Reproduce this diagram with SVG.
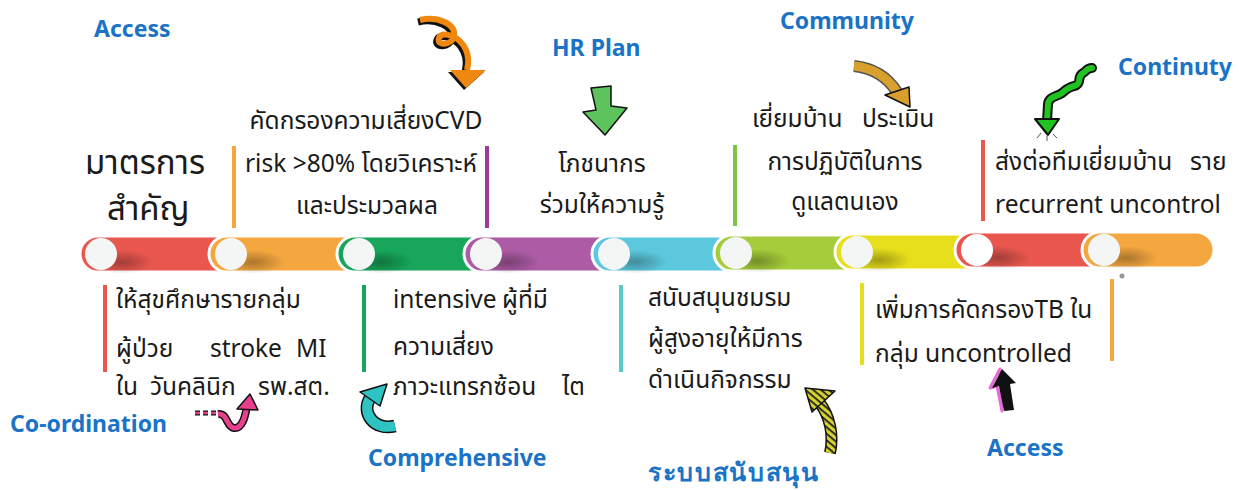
<svg xmlns="http://www.w3.org/2000/svg" width="1239" height="490" viewBox="0 0 1239 490">
  <style>
    .lbl { font-family: "Noto Sans", "Open Sans", "DejaVu Sans", sans-serif; font-weight: bold; font-size: 23px; fill: #1A73C6; }
    .txt { font-family: "Noto Sans Thai", "Noto Sans", "DejaVu Sans", sans-serif; font-size: 24.5px; fill: #1a1a1a; white-space: pre; }
    .big { font-family: "Noto Sans Thai", "Noto Sans", "DejaVu Sans", sans-serif; font-size: 33px; fill: #1a1a1a; }
    .seg { stroke: #ffffff; stroke-width: 3; }
    .dot { fill: #F4F5F5; }
    .tick { stroke-width: 4; stroke-linecap: butt; }
    .ink { stroke: #111; stroke-width: 1.5; stroke-linejoin: round; }
  </style>
  <defs>
    <radialGradient id="shade" cx="0.5" cy="0.5" r="0.5">
      <stop offset="0" stop-color="#000" stop-opacity="0.3"/>
      <stop offset="1" stop-color="#000" stop-opacity="0"/>
    </radialGradient>
    <pattern id="stripes" width="5" height="5" patternUnits="userSpaceOnUse" patternTransform="rotate(40)">
      <rect width="5" height="5" fill="#D6D232"/>
      <rect width="5" height="1.8" fill="#222"/>
    </pattern>
  </defs>

  <!-- timeline bar -->
  <g id="timeline">
    <g id="seg1">
      <path class="seg" fill="#E9574F" d="M98 236 H232 V272 H98 A18 18 0 0 1 98 236 Z"/>
      <ellipse cx="122" cy="262" rx="32" ry="12" fill="url(#shade)"/>
      <circle class="dot" cx="101" cy="254" r="16"/>
    </g>
    <g id="seg2">
      <path class="seg" fill="#F4A73F" d="M227 236 H360 V272 H227 A18 18 0 0 1 227 236 Z"/>
      <ellipse cx="253" cy="262" rx="32" ry="12" fill="url(#shade)"/>
      <circle class="dot" cx="231" cy="254" r="16"/>
    </g>
    <g id="seg3">
      <path class="seg" fill="#17A65A" d="M355 236 H486 V272 H355 A18 18 0 0 1 355 236 Z"/>
      <ellipse cx="381" cy="262" rx="32" ry="12" fill="url(#shade)"/>
      <circle class="dot" cx="359" cy="254" r="16"/>
    </g>
    <g id="seg4">
      <path class="seg" fill="#AD5BA4" d="M482 236 H614 V272 H482 A18 18 0 0 1 482 236 Z"/>
      <ellipse cx="508" cy="262" rx="32" ry="12" fill="url(#shade)"/>
      <circle class="dot" cx="486" cy="254" r="16"/>
    </g>
    <g id="seg5">
      <path class="seg" fill="#5CC8DE" d="M610 236 H736 V272 H610 A18 18 0 0 1 610 236 Z"/>
      <ellipse cx="636" cy="262" rx="32" ry="12" fill="url(#shade)"/>
      <circle class="dot" cx="614" cy="254" r="16"/>
    </g>
    <g id="seg6">
      <path class="seg" fill="#A5CC3A" d="M732 235 H857 V271 H732 A18 18 0 0 1 732 235 Z"/>
      <ellipse cx="758" cy="261" rx="32" ry="12" fill="url(#shade)"/>
      <circle class="dot" cx="736" cy="253" r="16"/>
    </g>
    <g id="seg7">
      <path class="seg" fill="#E7DF1B" d="M853 234 H977 V270 H853 A18 18 0 0 1 853 234 Z"/>
      <ellipse cx="879" cy="260" rx="32" ry="12" fill="url(#shade)"/>
      <circle class="dot" cx="857" cy="252" r="16"/>
    </g>
    <g id="seg8">
      <path class="seg" fill="#E9574F" d="M973 232 H1104 V268 H973 A18 18 0 0 1 973 232 Z"/>
      <ellipse cx="999" cy="258" rx="32" ry="12" fill="url(#shade)"/>
      <circle fill="#ffffff" cx="977" cy="250" r="16"/>
    </g>
    <g id="seg9">
      <path class="seg" fill="#F4A73F" d="M1100 232 H1196 A18 18 0 0 1 1196 268 H1100 A18 18 0 0 1 1100 232 Z"/>
      <ellipse cx="1126" cy="258" rx="32" ry="12" fill="url(#shade)"/>
      <circle class="dot" cx="1104" cy="250" r="16"/>
      <circle cx="1122" cy="276" r="2.5" fill="#999"/>
    </g>
  </g>

  <!-- colour ticks above and below the bar -->
  <g id="ticks">
    <line class="tick" x1="234" y1="146" x2="234" y2="228" stroke="#F4A73F"/>
    <line class="tick" x1="487" y1="146" x2="487" y2="228" stroke="#9B3C9B"/>
    <line class="tick" x1="735" y1="145" x2="735" y2="226" stroke="#7CC443"/>
    <line class="tick" x1="983" y1="140" x2="983" y2="221" stroke="#E9574F"/>
    <line class="tick" x1="105" y1="285" x2="105" y2="372" stroke="#E9574F"/>
    <line class="tick" x1="364" y1="285" x2="364" y2="372" stroke="#17A65A"/>
    <line class="tick" x1="621" y1="285" x2="621" y2="372" stroke="#5CC8C8"/>
    <line class="tick" x1="862" y1="283" x2="862" y2="365" stroke="#E7DF1B"/>
    <line class="tick" x1="1112" y1="279" x2="1112" y2="361" stroke="#F4A73F"/>
  </g>

  <!-- heading -->
  <g id="title">
    <text class="big" x="85" y="174">มาตรการ</text>
    <text class="big" x="107" y="220">สำคัญ</text>
  </g>

  <!-- category labels -->
  <g id="labels">
    <text class="lbl" x="94" y="37">Access</text>
    <text class="lbl" x="780" y="29">Community</text>
    <text class="lbl" x="552" y="56">HR Plan</text>
    <text class="lbl" x="1118" y="75">Continuty</text>
    <text class="lbl" x="10" y="432">Co-ordination</text>
    <text class="lbl" x="368" y="466">Comprehensive</text>
    <text class="lbl" x="648" y="481" style="font-size:25px" textLength="170" lengthAdjust="spacing">ระบบสนับสนุน</text>
    <text class="lbl" x="987" y="456">Access</text>
  </g>

  <!-- upper activity texts -->
  <g id="node-cvd">
    <text class="txt" x="366" y="129" text-anchor="middle">คัดกรองความเสี่ยงCVD</text>
    <text class="txt" x="245" y="172">risk &gt;80% โดยวิเคราะห์</text>
    <text class="txt" x="367" y="214" text-anchor="middle">และประมวลผล</text>
  </g>
  <g id="node-nutrition">
    <text class="txt" x="602" y="172" text-anchor="middle">โภชนากร</text>
    <text class="txt" x="602" y="213" text-anchor="middle">ร่วมให้ความรู้</text>
  </g>
  <g id="node-visit">
    <text class="txt" y="127"><tspan x="752">เยี่ยมบ้าน</tspan><tspan x="862">ประเมิน</tspan></text>
    <text class="txt" x="845" y="170" text-anchor="middle">การปฏิบัติในการ</text>
    <text class="txt" x="845" y="210" text-anchor="middle">ดูแลตนเอง</text>
  </g>
  <g id="node-refer">
    <text class="txt" y="170"><tspan x="995">ส่งต่อทีมเยี่ยมบ้าน</tspan><tspan x="1190">ราย</tspan></text>
    <text class="txt" x="995" y="213">recurrent uncontrol</text>
  </g>

  <!-- lower activity texts -->
  <g id="node-education">
    <text class="txt" x="116" y="308">ให้สุขศึกษารายกลุ่ม</text>
    <text class="txt" y="357"><tspan x="116">ผู้ป่วย</tspan><tspan x="210">stroke</tspan><tspan x="296">MI</tspan></text>
    <text class="txt" y="395"><tspan x="116">ใน</tspan><tspan x="150">วันคลินิก</tspan><tspan x="258">รพ.สต.</tspan></text>
  </g>
  <g id="node-intensive">
    <text class="txt" y="308"><tspan x="393">intensive</tspan><tspan x="502">ผู้ที่มี</tspan></text>
    <text class="txt" x="393" y="355">ความเสี่ยง</text>
    <text class="txt" y="395"><tspan x="393">ภาวะแทรกซ้อน</tspan><tspan x="562">ไต</tspan></text>
  </g>
  <g id="node-club">
    <text class="txt" x="648" y="306">สนับสนุนชมรม</text>
    <text class="txt" x="648" y="347">ผู้สูงอายุให้มีการ</text>
    <text class="txt" x="648" y="388">ดำเนินกิจกรรม</text>
  </g>
  <g id="node-tb">
    <text class="txt" x="875" y="318">เพิ่มการคัดกรองTB ใน</text>
    <text class="txt" x="875" y="362">กลุ่ม uncontrolled</text>
  </g>

  <!-- hand-drawn arrows -->
  <g id="connectors">
    <!-- orange curl -->
    <g id="arrow-curl">
      <path d="M420 20 C438 16 456 24 454 36 C452 46 436 46 439 38 C442 30 460 36 466 50 C469 57 469 62 467 70" fill="none" stroke="#111" stroke-width="7" transform="translate(-2 2)"/>
      <polygon points="450,70 486,70 466,88" fill="#111" transform="translate(-2 2)"/>
      <path d="M420 20 C438 16 456 24 454 36 C452 46 436 46 439 38 C442 30 460 36 466 50 C469 57 469 62 467 70" fill="none" stroke="#F0880F" stroke-width="6"/>
      <polygon points="450,70 486,70 466,88" fill="#F0880F"/>
    </g>
    <!-- green block arrow -->
    <polygon id="arrow-hr" class="ink" points="591,88 611,86 611,106 627,108 605,135 583,112 596,110" fill="#5DC35D"/>
    <!-- gold curved arrow -->
    <g id="arrow-community">
      <path d="M854 66 C874 68 888 78 897 92" fill="none" stroke="#555" stroke-width="12"/>
      <path d="M854 66 C874 68 888 78 897 92" fill="none" stroke="#DAA02E" stroke-width="9"/>
      <polygon class="ink" points="885,95 909,87 910,107" fill="#DAA02E"/>
    </g>
    <!-- green zigzag arrow -->
    <g id="arrow-continuty">
      <path d="M1092 68 C1086 68 1086 72 1083 73 C1076 77 1083 84 1074 86 C1066 88 1066 90 1062 93 C1057 97 1049 96 1048 104 L1047 121" fill="none" stroke="#111" stroke-width="10" stroke-linecap="round" stroke-linejoin="round"/>
      <path d="M1092 68 C1086 68 1086 72 1083 73 C1076 77 1083 84 1074 86 C1066 88 1066 90 1062 93 C1057 97 1049 96 1048 104 L1047 121" fill="none" stroke="#21C321" stroke-width="6" stroke-linecap="round" stroke-linejoin="round"/>
      <polygon points="1035,119 1059,119 1048,135" fill="#21C321" stroke="#111" stroke-width="2" stroke-linejoin="round"/>
      <path d="M1041 133 L1037 138 M1047 136 L1047 141 M1053 134 L1057 138" stroke="#555" stroke-width="1"/>
    </g>
    <!-- pink hook arrow -->
    <g id="arrow-coord">
      <path d="M195 413 h5 M203 413 h5 M211 413 h5" stroke="#111" stroke-width="5"/>
      <path d="M195 413 h5 M203 413 h5 M211 413 h5" stroke="#E8408E" stroke-width="2.5"/>
      <path d="M218 414 C228 413 226 427 234 428 C242 429 245 418 247 406" fill="none" stroke="#111" stroke-width="8"/>
      <path d="M218 414 C228 413 226 427 234 428 C242 429 245 418 247 406" fill="none" stroke="#E8408E" stroke-width="5"/>
      <polygon points="250,394 237,409 258,410" fill="#E8408E" stroke="#111" stroke-width="1.5" stroke-linejoin="round"/>
    </g>
    <!-- cyan circular arrow -->
    <g id="arrow-comp">
      <path d="M395 426 C374 431 361 413 370 398" fill="none" stroke="#111" stroke-width="13"/>
      <path d="M395 426 C374 431 361 413 370 398" fill="none" stroke="#2EC4C4" stroke-width="10"/>
      <polygon class="ink" points="360,392 387,384 380,406" fill="#2EC4C4"/>
    </g>
    <!-- striped arrow -->
    <g id="arrow-support">
      <path d="M830 453 C834 435 830 416 819 402" fill="none" stroke="#111" stroke-width="12"/>
      <path d="M830 453 C834 435 830 416 819 402" fill="none" stroke="url(#stripes)" stroke-width="9"/>
      <polygon class="ink" points="805,388 835,391 812,412" fill="url(#stripes)"/>
    </g>
    <!-- black up arrow -->
    <g id="arrow-access">
      <polygon points="1000,369 990,388 997,386 1002,411" fill="none" stroke="#E86AD8" stroke-width="3" stroke-linejoin="round"/>
      <polygon points="1002,369 1016,383 1010,384 1014,410 1004,411 999,386 992,388" fill="#111"/>
    </g>
  </g>
</svg>
